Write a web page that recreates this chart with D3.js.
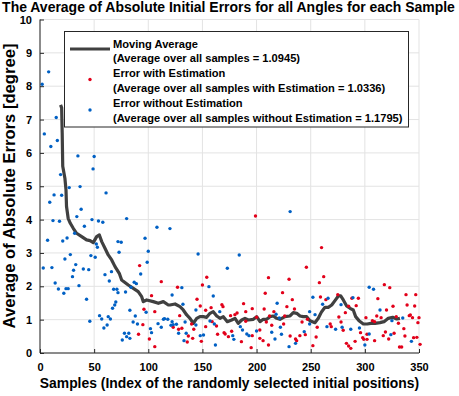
<!DOCTYPE html>
<html><head><meta charset="utf-8">
<script src="https://cdn.jsdelivr.net/npm/d3@7"></script>
<style>
html,body{margin:0;padding:0;background:#fff;}
svg{display:block;}
text{font-family:"Liberation Sans",Arial,Helvetica,sans-serif;font-weight:bold;fill:#000;}
</style></head>
<body>
<svg id="chart" width="459" height="396"></svg>
<script>
// ---------------- data ----------------
const titleText = "The Average of Absolute Initial Errors for all Angles for each Sample";
const xLabelText = "Samples (Index of the randomly selected initial positions)";
const yLabelText = "Average of Absolute Errors [degree]";
const xTicks = [0, 50, 100, 150, 200, 250, 300, 350];
const yTicks = [0, 1, 2, 3, 4, 5, 6, 7, 8, 9, 10];
const legendLines = [
  "Moving Average",
  "(Average over all samples = 1.0945)",
  "Error with Estimation",
  "(Average over all samples with Estimation = 1.0336)",
  "Error without Estimation",
  "(Average over all samples without Estimation = 1.1795)"
];

// [sample, error] – Error without Estimation (blue)
const withoutEstimation = [
[2,8.06],[8,8.43],[15,7.06],[4,6.57],[16,6.37],[10,6.19],[35,5.91],[50,5.89],[49,5.52],
[19,5.35],[13,4.74],[20,4.73],[27,4.96],[9,4.52],[12,3.97],[18,3.95],[7,3.38],[21,3.36],[25,3.45],
[3,2.55],[11,2.56],[23,2.82],[28,2.95],[14,2.10],[17,1.92],[22,1.79],[24,1.93],[26,1.93],
[37,4.99],[61,4.80],[38,4.31],[34,4.09],[48,4.00],[54,3.96],[58,3.92],[80,4.03],[41,3.80],[108,3.77],
[120,3.73],[32,3.59],[97,3.44],[72,3.34],[75,3.32],[52,3.27],[53,3.17],[73,3.02],[100,3.05],[47,2.92],
[51,2.87],[33,2.65],[40,2.52],[45,2.50],[31,2.48],[99,2.72],[93,2.37],[30,2.29],[66,2.44],[60,2.35],
[64,2.16],[87,2.12],[89,2.08],[36,2.02],[68,1.91],[71,1.91],[72,1.81],[70,1.53],[69,1.44],[67,1.34],
[43,1.61],[79,1.83],[84,1.97],[122,1.74],[98,1.22],[83,1.28],[88,1.11],[55,1.12],[57,1.02],[63,1.09],
[65,1.02],[46,0.95],[59,0.75],[62,0.84],[86,0.93],[90,0.87],[102,0.73],[103,0.61],[114,1.01],[115,1.03],
[118,1.01],[112,0.77],[109,0.88],[121,0.83],[123,0.85],[126,0.86],[122,0.94],[78,0.59],[82,0.59],[80,0.49],
[76,0.39],[83,0.44],
[128,0.59],[231,4.24],[146,2.97],[184,2.94],[173,2.54],[131,1.96],[156,1.99],[160,1.71],[219,1.49],[132,1.46],
[144,1.29],[249,1.24],[218,1.16],[221,1.05],[166,1.24],[157,0.96],[161,0.87],[134,0.93],[144,0.84],[135,0.59],
[133,0.37],[148,0.52],[151,0.54],[162,0.24],[178,0.52],[179,0.41],[185,0.79],[187,0.69],[191,0.57],[193,0.52],
[200,0.66],[214,0.62],[217,0.42],[222,0.77],[223,0.56],[230,0.19],[236,0.29],[244,0.64],[249,0.87],
[252,1.67],[266,1.64],[261,1.46],[289,1.66],[278,1.45],[254,1.15],[265,0.79],[273,0.71],[279,0.77],[287,0.71],
[295,0.75],[300,0.24],[304,1.97],[308,1.91],[314,1.29],[304,0.57],[324,0.55],[325,0.97],[335,1.05],[343,0.35]
];

// [sample, error] – Error with Estimation (red)
const withEstimation = [
[92,2.62],[112,2.14],[127,1.97],[103,1.72],[96,1.31],[106,1.24],[95,0.85],[101,0.42],[91,0.56],[106,0.19],
[128,0.71],[123,0.77],
[129,1.12],[199,4.11],[211,2.26],[230,2.21],[246,2.57],[154,2.27],[150,2.04],[145,1.61],[208,1.79],[224,1.81],
[233,1.60],[148,1.41],[168,1.45],[169,1.39],[188,1.48],[196,1.33],[207,1.32],[158,1.36],[153,1.28],[182,1.20],
[180,1.15],[216,1.24],[228,1.39],[235,1.32],[226,1.11],[212,1.11],[190,1.24],[176,1.12],[159,0.94],[163,0.81],
[131,0.74],[142,0.71],[140,0.87],[153,0.79],[137,0.51],[141,0.44],[136,0.33],[149,0.35],[164,0.56],[170,0.61],
[171,0.57],[174,0.49],[177,0.65],[190,0.95],[196,0.52],[186,0.34],[195,0.16],[203,0.69],[203,0.44],[211,0.24],
[206,0.37],[200,1.07],[209,0.93],[214,0.83],[231,0.51],[225,0.87],[236,0.42],[237,0.37],[240,0.52],[245,0.55],
[242,0.93],[247,1.01],
[260,3.16],[262,2.29],[258,2.11],[259,1.68],[264,1.60],[275,1.75],[288,1.64],[294,1.64],[285,1.40],[292,1.42],
[282,1.21],[276,1.08],[278,0.93],[256,0.77],[268,0.87],[269,0.79],[280,0.68],[296,0.61],[255,0.48],[252,0.22],
[283,0.29],[285,0.21],[287,0.14],[291,0.35],[298,0.46],[299,0.41],[301,1.06],[312,1.63],[318,2.05],[323,1.96],
[326,1.40],[320,1.29],[311,1.11],[315,1.06],[307,0.97],[309,0.94],[302,0.56],[302,0.41],[309,0.37],[317,0.52],
[319,0.63],[322,0.42],[327,0.59],[329,1.09],[331,0.89],[332,0.18],[334,0.18],[336,0.73],[337,0.51],[338,1.75],
[339,1.44],[341,1.12],[342,1.14],[344,1.06],[345,0.46],[347,1.75],[346,1.41],[348,0.47],[349,0.91],[350,1.06],
[351,0.26]
];

// [sample, value] – Moving Average
const movingAverage = [
[19,7.44],[20,7.35],[20.5,6.6],[21,5.6],[23,5.24],[24,4.89],[24.5,4.39],[26,4.04],[28,3.89],[30.7,3.74],
[33.8,3.59],[38.5,3.49],[43,3.39],[46.2,3.37],[49.2,3.31],[52.3,3.49],[54.8,3.54],[57,3.34],[60,3.14],[63,2.94],
[66.2,2.79],[69.3,2.59],[73.2,2.39],[75.4,2.19],[81.5,2.04],[86.2,1.94],[90.7,1.84],[93.9,1.69],[95.4,1.54],[98.5,1.59],
[104.6,1.54],[109.3,1.49],[113.9,1.54],[118.5,1.44],[120,1.44],[124.7,1.47],[129.3,1.39],[132.3,1.29],[135.5,1.14],[138.5,1.04],
[141.6,0.89],[144.7,1.04],[147.7,1.09],[150.8,1.09],[153.9,1.07],[157,1.19],[160,1.24],[163.2,1.11],[166.2,1.04],[169.3,1.09],
[173,0.94],[177,0.99],[180.1,1.04],[183.1,0.89],[186.3,0.99],[189.3,1.04],[192.4,0.99],[197,1.01],[200.1,1.09],[203.2,0.94],
[206.2,1.01],[209.3,1.01],[212.4,1.09],[215.4,1.11],[218.6,1.04],[221.6,1.01],[226.2,1.09],[230.9,1.11],[233.9,1.21],[237.1,1.19],
[240.1,1.11],[243.1,1.09],[246.3,1.09],[249.3,0.97],[253.9,0.91],[257,1.04],[260.1,1.24],[263.2,1.37],[266.2,1.37],[269.4,1.44],
[272.4,1.57],[275.5,1.71],[277.7,1.71],[280.1,1.59],[283.2,1.41],[286.3,1.34],[289.3,1.29],[291.5,1.09],[294.6,0.97],[298.6,0.87],
[302.2,0.87],[305.4,0.89],[309.4,0.89],[314,0.91],[317.7,0.94],[321.6,1.04],[325.7,1.07],[329.4,1.02],[332.4,1.04]
];

// ---------------- drawing ----------------
const RED = "#e2001a", BLUE = "#0060c4", LINE = "#404040", AX = "#262626", GRID = "#e3e3e3";
const svg = d3.select("#chart");
const x = d3.scaleLinear().domain([0, 350]).range([40, 419]);
const y = d3.scaleLinear().domain([0, 10]).range([353, 19.5]);

function fit(sel, target, size) {
  sel.style("font-size", size + "px");
  const w = sel.node().getComputedTextLength();
  const s = size * target / w;
  sel.style("font-size", s + "px");
  return s;
}

// grid
const grid = svg.append("g");
grid.selectAll("line.gx").data(xTicks).join("line")
  .attr("x1", d => x(d)).attr("x2", d => x(d)).attr("y1", y(0)).attr("y2", y(10))
  .attr("stroke", GRID).attr("stroke-width", 1);
grid.selectAll("line.gy").data(yTicks).join("line")
  .attr("y1", d => y(d)).attr("y2", d => y(d)).attr("x1", x(0)).attr("x2", x(350))
  .attr("stroke", GRID).attr("stroke-width", 1);

// moving average
svg.append("path").datum(movingAverage)
  .attr("d", d3.line().x(d => x(d[0])).y(d => y(d[1])))
  .attr("fill", "none").attr("stroke", LINE).attr("stroke-width", 3.2).attr("stroke-linejoin", "round");

// points
svg.append("g").selectAll("circle").data(withEstimation).join("circle")
  .attr("cx", d => x(d[0])).attr("cy", d => y(d[1])).attr("r", 1.7).attr("fill", RED);
svg.append("g").selectAll("circle").data(withoutEstimation).join("circle")
  .attr("cx", d => x(d[0])).attr("cy", d => y(d[1])).attr("r", 1.7).attr("fill", BLUE);

// axes
const xAxis = svg.append("g").attr("transform", `translate(0,${y(0)})`)
  .call(d3.axisBottom(x).tickValues(xTicks).tickSize(-4).tickPadding(10));
const yAxis = svg.append("g").attr("transform", `translate(${x(0)},0)`)
  .call(d3.axisLeft(y).tickValues(yTicks).tickSize(-4).tickPadding(8));
[xAxis, yAxis].forEach(a => {
  a.select(".domain").attr("stroke", AX);
  a.selectAll(".tick line").attr("stroke", AX);
  a.selectAll(".tick text").attr("fill", "#000").style("font-size", "11px")
    .style("font-family", '"Liberation Sans",Arial,sans-serif').style("font-weight", "bold");
});
xAxis.select(".domain").attr("d", `M${x(0)},0H${x(350)}`);
yAxis.select(".domain").attr("d", `M0,${y(0)}V${y(10)}`);

// title & labels
const title = svg.append("text").attr("x", 228.5).attr("y", 12).attr("text-anchor", "middle").text(titleText);
fit(title, 453, 14);
const xl = svg.append("text").attr("x", 229.5).attr("y", 388).attr("text-anchor", "middle").text(xLabelText);
fit(xl, 380, 13);
const yl = svg.append("text").attr("transform", `translate(15,186) rotate(-90)`).attr("text-anchor", "middle").text(yLabelText);
fit(yl, 285, 13);

// legend
const lg = svg.append("g");
lg.append("rect").attr("x", 64.5).attr("y", 31.5).attr("width", 344).attr("height", 95.5)
  .attr("fill", "#fff").attr("stroke", AX).attr("stroke-width", 1);
lg.append("line").attr("x1", 70).attr("x2", 110).attr("y1", 49).attr("y2", 49)
  .attr("stroke", LINE).attr("stroke-width", 3.2);
lg.append("circle").attr("cx", 90).attr("cy", 79.5).attr("r", 1.7).attr("fill", RED);
lg.append("circle").attr("cx", 90).attr("cy", 110).attr("r", 1.7).attr("fill", BLUE);
const lt = lg.selectAll("text").data(legendLines).join("text")
  .attr("x", 113).attr("y", (d, i) => 47.5 + i * 14.8).text(d => d);
const ls = fit(d3.select(lt.nodes()[5]), 290, 11);
lt.style("font-size", ls + "px");
</script>
</body></html>
